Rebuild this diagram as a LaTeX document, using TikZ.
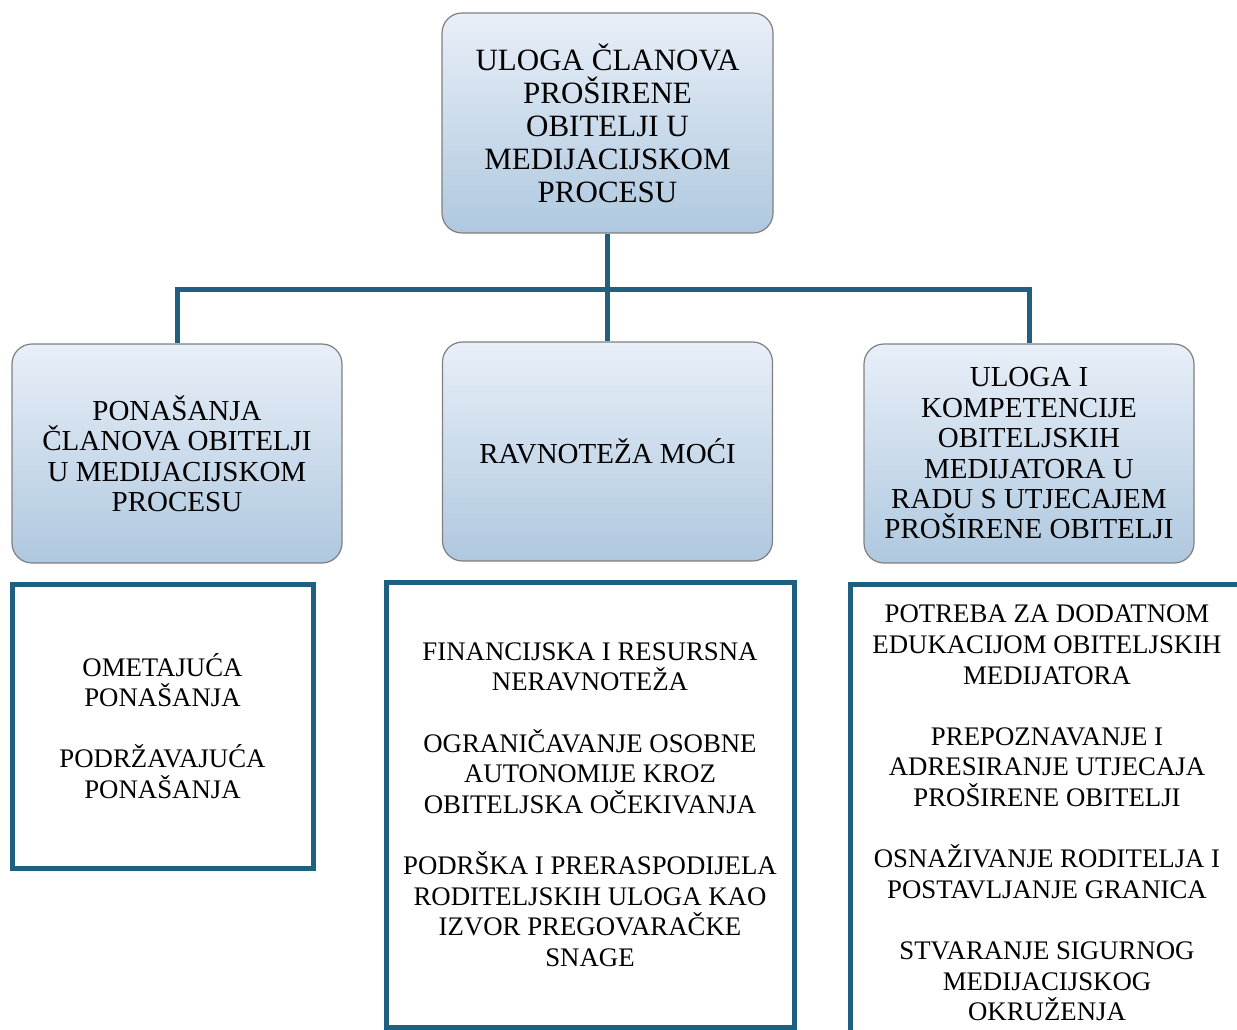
\documentclass[tikz,border=0pt]{standalone}
\usepackage{fontspec}
\setmainfont{Liberation Serif}
\definecolor{veza}{HTML}{1F5F7F}
\definecolor{plavagore}{HTML}{E8EFF8}
\definecolor{plavadolje}{HTML}{AFC8DF}
\definecolor{rub}{HTML}{7F7F7F}
\begin{document}
\begin{tikzpicture}[x=0.5pt, y=-0.5pt,
    naslov/.style={draw=rub, line width=0.6pt, rounded corners=10pt, top color=plavagore, bottom color=plavadolje, inner sep=0pt, align=center},
    sredina/.style={naslov, minimum width=165pt, minimum height=109.5pt, font=\fontsize{14.5}{15.2}\selectfont},
    okvir/.style={draw=veza, line width=2.5pt, inner sep=0pt, align=center, font=\fontsize{13.4}{15.3}\selectfont},
    veza/.style={draw=veza, line width=2.5pt}]
    \useasboundingbox (0,0) rectangle (1237,1029);
    \clip (0,0) rectangle (1237,1029);

    % glavni pojam
    \node[naslov, minimum width=165.5pt, minimum height=110pt, font=\fontsize{15.5}{16.5}\selectfont] (uloga) at (607.5,123) {ULOGA ČLANOVA\\PROŠIRENE\\OBITELJI U\\MEDIJACIJSKOM\\PROCESU};

    % tri teme
    \node[sredina] (ponasanja) at (177,453.5) {PONAŠANJA\\ČLANOVA OBITELJI\\U MEDIJACIJSKOM\\PROCESU};
    \node[sredina] (moc) at (607.5,451.5) {RAVNOTEŽA MOĆI};
    \node[sredina] (kompetencije) at (1029,453.5) {ULOGA I\\KOMPETENCIJE\\OBITELJSKIH\\MEDIJATORA U\\RADU S UTJECAJEM\\PROŠIRENE OBITELJI};

    % veze
    \coordinate (bus) at (607.5,289);
    \draw[veza] (uloga) -- (moc);
    \draw[veza] (ponasanja.north) |- (bus) -| (kompetencije.north);

    % podteme
    \node[okvir, minimum width=150.5pt, minimum height=142pt] (ometajuca) at (162.5,726) {OMETAJUĆA\\PONAŠANJA\\[15.3pt]PODRŽAVAJUĆA\\PONAŠANJA};
    \node[okvir, minimum width=204pt, minimum height=222.5pt] (neravnoteza) at (590,804.5) {FINANCIJSKA I RESURSNA\\NERAVNOTEŽA\\[15.3pt]OGRANIČAVANJE OSOBNE\\AUTONOMIJE KROZ\\OBITELJSKA OČEKIVANJA\\[15.3pt]PODRŠKA I PRERASPODIJELA\\RODITELJSKIH ULOGA KAO\\IZVOR PREGOVARAČKE\\SNAGE};
    \node[okvir, minimum width=197pt, minimum height=229pt] (edukacija) at (1047,813) {POTREBA ZA DODATNOM\\EDUKACIJOM OBITELJSKIH\\MEDIJATORA\\[15.3pt]PREPOZNAVANJE I\\ADRESIRANJE UTJECAJA\\PROŠIRENE OBITELJI\\[15.3pt]OSNAŽIVANJE RODITELJA I\\POSTAVLJANJE GRANICA\\[15.3pt]STVARANJE SIGURNOG\\MEDIJACIJSKOG\\OKRUŽENJA};
\end{tikzpicture}
\end{document}
